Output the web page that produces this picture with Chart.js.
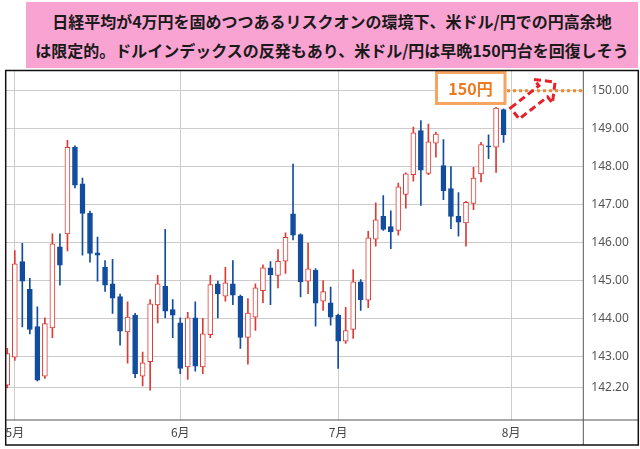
<!DOCTYPE html>
<html lang="ja">
<head>
  <meta charset="UTF-8" />
  <title>米ドル/円 日足</title>
  <script src="https://cdn.jsdelivr.net/npm/chart.js"></script>
  <style>
    body { margin: 0; background: #fff; }
    #marco { position: relative; width: 640px; height: 449px; }
    #titulo {
      position: absolute; left: 26px; top: 2px; width: 612px; height: 66px;
      box-sizing: border-box; padding-top: 5px;
      background: #f9a3d2; color: #1a1a1a;
      font-family: "Noto Sans CJK JP", sans-serif; font-weight: bold; font-size: 16px;
      line-height: 28.5px; text-align: center; white-space: nowrap;
    }
  </style>
</head>
<body>
  <div id="marco">
    <canvas id="grafico" width="640" height="449"></canvas>
    <div id="titulo">日経平均が4万円を固めつつあるリスクオンの環境下、米ドル/円での円高余地<br>は限定的。ドルインデックスの反発もあり、米ドル/円は早晩150円台を回復しそう</div>
  </div>

  <script>
    // 日足 (4/30 ～ 7/31)
    const opens  = [142.25,142.99,145.50,144.77,143.79,142.49,143.76,145.89,146.23,148.51,
                    147.55,146.77,145.73,145.36,144.92,144.58,143.65,144.09,142.49,142.87,
                    144.36,144.85,144.24,143.89,142.73,144.02,142.73,143.58,144.92,144.59,
                    144.92,144.59,143.51,144.04,144.74,145.34,145.14,145.51,146.76,146.21,
                    144.99,145.27,144.46,144.42,144.09,143.41,143.72,144.97,144.49,146.09,
                    146.69,146.42,146.32,147.27,147.79,148.95,147.82,148.62,148.03,147.42,
                    146.69,146.52,147.03,147.81,148.54,148.51,149.50];
    const highs  = [143.22,145.79,145.98,145.06,144.31,144.02,146.23,146.23,148.69,148.55,
                    147.70,146.83,146.15,145.53,145.56,144.65,144.44,144.14,143.12,144.50,
                    145.14,146.35,144.50,144.02,144.17,144.44,144.01,145.14,144.99,145.35,
                    145.53,144.62,144.53,144.92,145.42,145.50,145.82,146.26,148.07,146.23,
                    145.99,145.32,145.00,144.83,144.12,144.30,145.29,145.03,146.30,147.05,
                    147.24,146.84,147.57,147.84,149.04,149.21,149.12,148.91,148.71,148.00,
                    147.32,147.09,147.98,148.64,148.84,149.56,149.52];
    const lows   = [142.18,142.90,143.78,143.60,142.36,142.43,143.50,144.88,145.78,147.44,
                    145.67,145.49,144.99,144.72,144.14,143.30,142.83,142.45,142.23,142.12,
                    143.89,144.02,143.50,142.55,142.40,142.62,142.55,143.50,144.02,144.46,
                    144.37,143.22,142.80,143.69,144.42,144.37,144.81,145.19,146.07,144.57,
                    144.66,143.80,144.22,143.83,142.69,143.35,143.48,144.22,144.29,145.91,
                    146.32,145.84,146.20,146.91,147.62,146.98,147.79,148.25,147.13,146.37,
                    146.17,145.91,146.87,147.60,148.21,147.85,148.64];
    const closes = [143.08,145.44,144.99,143.72,142.38,143.87,145.97,145.41,148.51,147.51,
                    146.77,145.72,145.67,144.88,144.54,143.67,144.04,142.55,142.84,144.39,
                    144.92,144.20,144.09,142.69,144.02,142.75,143.60,144.90,144.65,144.94,
                    144.62,143.51,144.15,144.81,145.34,145.16,145.51,146.14,146.20,144.97,
                    145.31,144.41,144.71,144.04,143.41,143.69,144.97,144.50,146.13,146.60,
                    146.35,146.28,147.47,147.81,148.89,147.91,148.65,148.86,147.37,146.69,
                    146.54,147.06,147.70,148.58,148.52,149.54,148.84];

    const monthTicks  = [1, 23, 44, 67];
    const monthLabels = ['5月', '6月', '7月', '8月'];
    const yTicks = [142.2, 143, 144, 145, 146, 147, 148, 149, 150];
    const target = 150;

    const ROJO = '#dc3b34';
    const AZUL = '#124c9e';
    const sube = closes.map((c, i) => c >= opens[i]);

    const mechas = lows.map((l, i) => ({ x: i, y: [l, highs[i]] }));
    const cuerpos = opens.map((o, i) => ({ x: i, y: [o, closes[i]] }));

    // marco, linea de 150, recuadro y flecha
    const extras = {
      id: 'extras',
      afterDraw(chart) {
        const { ctx, chartArea: a, scales: { x, y } } = chart;
        const der = chart.width - 1.7;
        const inf = chart.height - 4;
        ctx.save();

        // linea punteada 150
        const y150 = y.getPixelForValue(target);
        ctx.strokeStyle = '#f08a2c';
        ctx.lineWidth = 3;
        ctx.setLineDash([3, 3]);
        ctx.beginPath();
        ctx.moveTo(507, y150);
        ctx.lineTo(a.right, y150);
        ctx.stroke();

        // recuadro 150円
        const cx = x.getPixelForValue(61.6);
        const cy = y.getPixelForValue(150.07);
        ctx.setLineDash([]);
        ctx.fillStyle = '#fff';
        ctx.fillRect(cx - 34, cy - 15.5, 68.5, 31);
        ctx.strokeStyle = '#f6a462';
        ctx.lineWidth = 3;
        ctx.strokeRect(cx - 34, cy - 15.5, 68.5, 31);
        ctx.fillStyle = '#ee7a1f';
        ctx.font = 'bold 16px "Noto Sans CJK JP"';
        ctx.textAlign = 'center';
        ctx.textBaseline = 'middle';
        ctx.fillText('150円', cx, cy + 1);

        // flecha
        const bx = x.getPixelForValue(67.5);
        const by = y.getPixelForValue(149.4);
        const ang = -38 * Math.PI / 180;
        const u = [Math.cos(ang), Math.sin(ang)];
        const n = [-u[1], u[0]];
        const p = (l, w) => [bx + u[0] * l + n[0] * w, by + u[1] * l + n[1] * w];
        const pts = [p(0, -7), p(36, -7), p(36, -15), p(51, 0), p(36, 15), p(36, 7), p(0, 7)];
        ctx.strokeStyle = '#e8202a';
        ctx.lineWidth = 3;
        ctx.setLineDash([7, 4]);
        ctx.beginPath();
        pts.forEach((q, i) => i ? ctx.lineTo(q[0], q[1]) : ctx.moveTo(q[0], q[1]));
        ctx.closePath();
        ctx.stroke();

        // lineas interiores
        ctx.setLineDash([]);
        ctx.strokeStyle = '#555';
        ctx.lineWidth = 1;
        ctx.beginPath();
        ctx.moveTo(a.right, a.top);
        ctx.lineTo(a.right, inf);
        ctx.moveTo(a.left, a.bottom);
        ctx.lineTo(der, a.bottom);
        ctx.stroke();

        // marco exterior
        ctx.strokeStyle = '#111';
        ctx.lineWidth = 1.5;
        ctx.strokeRect(a.left, a.top, der - a.left, inf - a.top);
        ctx.restore();
      }
    };

    new Chart(document.getElementById('grafico'), {
      type: 'bar',
      data: {
        datasets: [
          {
            data: cuerpos,
            order: 0,
            grouped: false,
            barThickness: 5,
            minBarLength: 1,
            borderWidth: 1,
            borderSkipped: false,
            borderColor: sube.map(s => s ? ROJO : AZUL),
            backgroundColor: sube.map(s => s ? '#fff' : AZUL)
          },
          {
            data: mechas,
            order: 1,
            grouped: false,
            barThickness: 1,
            borderWidth: 0,
            backgroundColor: sube.map(s => s ? ROJO : AZUL)
          }
        ]
      },
      options: {
        responsive: false,
        animation: false,
        devicePixelRatio: 1,
        layout: { padding: { left: 5.7, top: 70.5, right: 1.7, bottom: 4 } },
        plugins: {
          legend: { display: false },
          tooltip: { enabled: false }
        },
        scales: {
          x: {
            type: 'linear',
            min: -0.21,
            max: 76.6,
            offset: false,
            grid: { color: '#cccccc', drawTicks: false, offset: false },
            border: { display: false },
            afterBuildTicks: s => { s.ticks = monthTicks.map(v => ({ value: v })); },
            afterFit: s => { s.height = 25; },
            ticks: {
              autoSkip: false,
              maxRotation: 0,
              padding: 5,
              color: '#444',
              font: { family: '"Noto Sans CJK JP"', size: 12 },
              callback: v => monthLabels[monthTicks.indexOf(v)]
            }
          },
          y: {
            position: 'right',
            min: 141.334,
            max: 150.53,
            beginAtZero: false,
            grid: { color: '#cccccc', drawTicks: false },
            border: { display: false },
            afterBuildTicks: s => { s.ticks = yTicks.map(v => ({ value: v })); },
            afterFit: s => { s.width = 55; },
            ticks: {
              padding: 8,
              color: '#555',
              font: { family: '"Noto Sans"', size: 12 },
              callback: v => v.toFixed(2)
            }
          }
        }
      },
      plugins: [extras]
    });
  </script>
</body>
</html>
